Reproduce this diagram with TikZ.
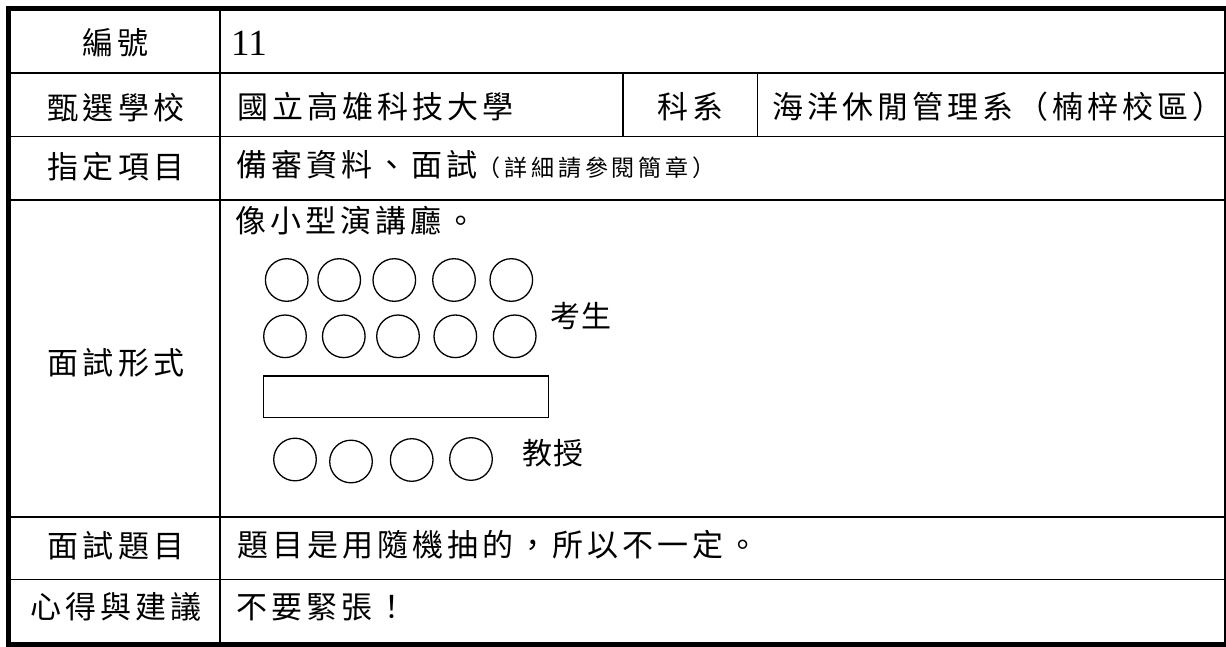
\documentclass[tikz,border=0pt]{standalone}
\usepackage{fontspec}
\setmainfont{Liberation Serif}
\newfontfamily\cjkA[LetterSpace=13]{Noto Sans CJK TC}
\newfontfamily\cjkS[LetterSpace=17]{Noto Sans CJK TC}
\newfontfamily\cjkB[LetterSpace=5]{Noto Sans CJK TC}
\begin{document}
\begin{tikzpicture}[x=1pt,y=-1pt,
  rule/.style={line width=1.7pt},
  frame/.style={line width=5pt},
  lbl/.style={font=\cjkA\fontsize{31}{33}\selectfont, inner sep=0pt},
  txt/.style={font=\cjkA\fontsize{31}{33}\selectfont, inner sep=0pt, anchor=west},
  tag/.style={font=\cjkB\fontsize{30}{32}\selectfont, inner sep=0pt, anchor=west},
  seat/.style={line width=1.3pt},
  desk/.style={line width=1.7pt}
]
\fill[white] (0,0) rectangle (1226,646);
\useasboundingbox (0,0) rectangle (1226,646);
\clip (0,0) rectangle (1226,646);

% table rules
\draw[rule] (8.5,73) -- (1226.5,73);
\draw[rule] (8.5,136.5) -- (1226.5,136.5);
\draw[rule] (8.5,200) -- (1226.5,200);
\draw[rule] (8.5,517) -- (1226.5,517);
\draw[rule] (8.5,579.5) -- (1226.5,579.5);
\draw[rule] (220,8.5) -- (220,644.5);
\draw[rule] (623,73) -- (623,136.5);
\draw[rule] (757.5,73) -- (757.5,136.5);
\draw[frame] (8.5,8.5) rectangle (1226.5,644.5);

% labels and contents
\node[lbl] (l1) at (116,43) {編號};
\node[font=\fontsize{37}{40}\selectfont, inner sep=0pt, anchor=base west] (v1) at (231,55) {11};
\node[lbl] (l2) at (116,108) {甄選學校};
\node[txt] (v2) at (237,107) {國立高雄科技大學};
\node[lbl] (l2b) at (691,107) {科系};
\node[txt] (v2b) at (772,107) {海洋休閒管理系（楠梓校區）};
\node[lbl] (l3) at (116,167) {指定項目};
\node[txt] (v3) at (236,165) {備審資料、面試{\cjkS\fontsize{23}{25}\selectfont （詳細請參閱簡章）}};
\node[lbl] (l4) at (116,363) {面試形式};
\node[txt] (v4) at (235,221) {像小型演講廳。};
\node[lbl] (l5) at (116,546) {面試題目};
\node[txt] (v5) at (237,545) {題目是用隨機抽的，所以不一定。};
\node[lbl] (l6) at (116,607) {心得與建議};
\node[txt] (v6) at (236,607) {不要緊張！};

% seating sketch
\foreach \x in {286.7,339.2,394.3,454,511.3}
  \draw[seat] (\x,280) circle[radius=21.3];
\foreach \x in {285,343.8,398,455.3,514.7}
  \draw[seat] (\x,336.3) circle[radius=21.3];
\draw[desk] (263.5,376) rectangle (548.5,417.5);
\foreach \x/\y in {295/459.5,351/461.5,411.7/460,471/459}
  \draw[seat] (\x,\y) circle[radius=21.3];
\node[tag] (students) at (550,316) {考生};
\node[tag] (profs) at (522,453) {教授};
\end{tikzpicture}
\end{document}
